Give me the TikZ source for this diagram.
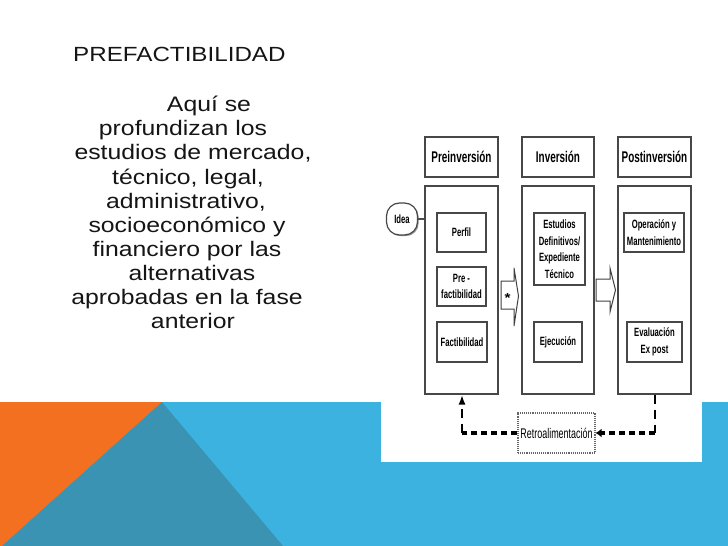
\documentclass[tikz,border=0pt]{standalone}
\usepackage{fontspec}
\setmainfont{Liberation Sans}[FakeStretch=1.18]
\newfontfamily\narrowfont{Liberation Sans}[FakeStretch=0.64]
\usetikzlibrary{shadows,arrows.meta}
\definecolor{myorange}{HTML}{F37021}
\definecolor{myblue}{HTML}{3CB2E0}
\definecolor{myteal}{HTML}{3A93B2}
\definecolor{ink}{HTML}{151515}
\tikzset{
  box/.style={draw=black!72, line width=1.2pt, fill=white, inner sep=0pt,
    drop shadow={shadow xshift=1.2pt, shadow yshift=-1.2pt, fill=black!40, opacity=1}},
  hdr/.style={box, text=black, font=\narrowfont\bfseries\fontsize{15.5}{17}\selectfont},
  inbox/.style={box, text=black, align=center, font=\narrowfont\bfseries\fontsize{12}{16.5}\selectfont},
  bodyline/.style={anchor=base, text=ink, font=\fontsize{21}{24}\selectfont, inner sep=0pt},
  thickdash/.style={line width=3.2pt, dash pattern=on 6.5pt off 3.5pt},
  thindash/.style={line width=2.2pt, dash pattern=on 9pt off 6pt},
  blockarrow/.style={draw=black!75, line width=1pt, fill=white}
}
\begin{document}
\begin{tikzpicture}[x=1pt,y=-1pt]
\useasboundingbox (0,0) rectangle (728,546);
\fill[white] (0,0) rectangle (728,546);
% background bands
\fill[myblue] (0,402) rectangle (728,546);
\fill[myorange] (0,402) -- (162,402) -- (2,546) -- (0,546) -- cycle;
\fill[myteal] (162,402) -- (283,546) -- (2,546) -- cycle;
% white image area
\fill[white] (381,118) rectangle (702,462);

% title and text
\node[anchor=base west, inner sep=0pt, text=ink, font=\fontsize{20.5}{24}\selectfont] (title) at (73,61) {PREFACTIBILIDAD};
\node[bodyline] (l1) at (209,111.7) {Aquí se};
\node[bodyline] (l2) at (183,135.8) {profundizan los};
\node[bodyline] (l3) at (193,159.9) {estudios de mercado,};
\node[bodyline] (l4) at (188,184.0) {técnico, legal,};
\node[bodyline] (l5) at (186,208.1) {administrativo,};
\node[bodyline] (l6) at (187,232.2) {socioeconómico y};
\node[bodyline] (l7) at (187,256.3) {financiero por las};
\node[bodyline] (l8) at (192,280.4) {alternativas};
\node[bodyline] (l9) at (187,304.5) {aprobadas en la fase};
\node[bodyline] (l10) at (193,328.6) {anterior};

% headers
\node[hdr, minimum width=73pt, minimum height=40pt] (preH) at (461.5,157) {Preinversión};
\node[hdr, minimum width=72pt, minimum height=40pt] (invH) at (558,157) {Inversión};
\node[hdr, minimum width=73pt, minimum height=40pt] (postH) at (654.5,157) {Postinversión};
% main columns
\node[box, minimum width=73pt, minimum height=208pt] (preM) at (461.5,290) {};
\node[box, minimum width=72pt, minimum height=208pt] (invM) at (558,290) {};
\node[box, minimum width=73pt, minimum height=208pt] (postM) at (654.5,290) {};

% idea
\node[box, rounded corners=13pt, minimum width=31pt, minimum height=32pt, text=black,
  font=\narrowfont\bfseries\fontsize{12}{12}\selectfont] (idea) at (402,219) {Idea};
\draw[black!70, line width=1.6pt] (idea.east) -- (preM.west |- idea.east);

% inner boxes
\node[inbox, minimum width=49pt, minimum height=39pt] (perfil) at (461.5,232.5) {Perfil};
\node[inbox, minimum width=49pt, minimum height=39pt] (prefact) at (461.5,286.5) {Pre -\\factibilidad};
\node[inbox, minimum width=50pt, minimum height=40pt] (fact) at (462,342) {Factibilidad};
\node[inbox, minimum width=51pt, minimum height=72pt] (estud) at (559.5,249) {Estudios\\Definitivos/\\Expediente\\Técnico};
\node[inbox, minimum width=48pt, minimum height=40pt] (ejec) at (558,342) {Ejecución};
\node[inbox, minimum width=60pt, minimum height=39pt] (oper) at (654,232.5) {Operación y\\Mantenimiento};
\node[inbox, minimum width=55pt, minimum height=40pt] (eval) at (654.5,342) {Evaluación\\Ex post};

% block arrows between columns
\draw[blockarrow] (501,281) -- (514,281) -- (514,268) -- (518.5,296) -- (514,326) -- (514,309) -- (501,309) -- cycle;
\node[inner sep=0pt, font=\bfseries\fontsize{13}{13}\selectfont] (star) at (507.5,298) {*};
\draw[blockarrow] (596,279) -- (610,279) -- (610,268) -- (615.5,290) -- (610,312) -- (610,301) -- (596,301) -- cycle;

% feedback loop
\node[draw=black!60, densely dotted, line width=1.1pt, minimum width=77pt, minimum height=40pt, inner sep=0pt, text=black,
  font=\narrowfont\fontsize{14}{15}\selectfont] (retro) at (556.5,433) {Retroalimentación};
\coordinate (fbL) at (462,433);
\coordinate (fbR) at (655,433);
\draw[thindash, black] (postM.south -| fbR) -- (fbR);
\draw[thickdash, black, -{Latex[length=6pt,width=9pt]}] (fbR) -- (retro.east);
\draw[thickdash, black] (retro.west) -- (fbL);
\draw[thindash, black, -{Latex[length=10pt,width=7pt]}] (fbL) -- (preM.south -| fbL);
\end{tikzpicture}
\end{document}
